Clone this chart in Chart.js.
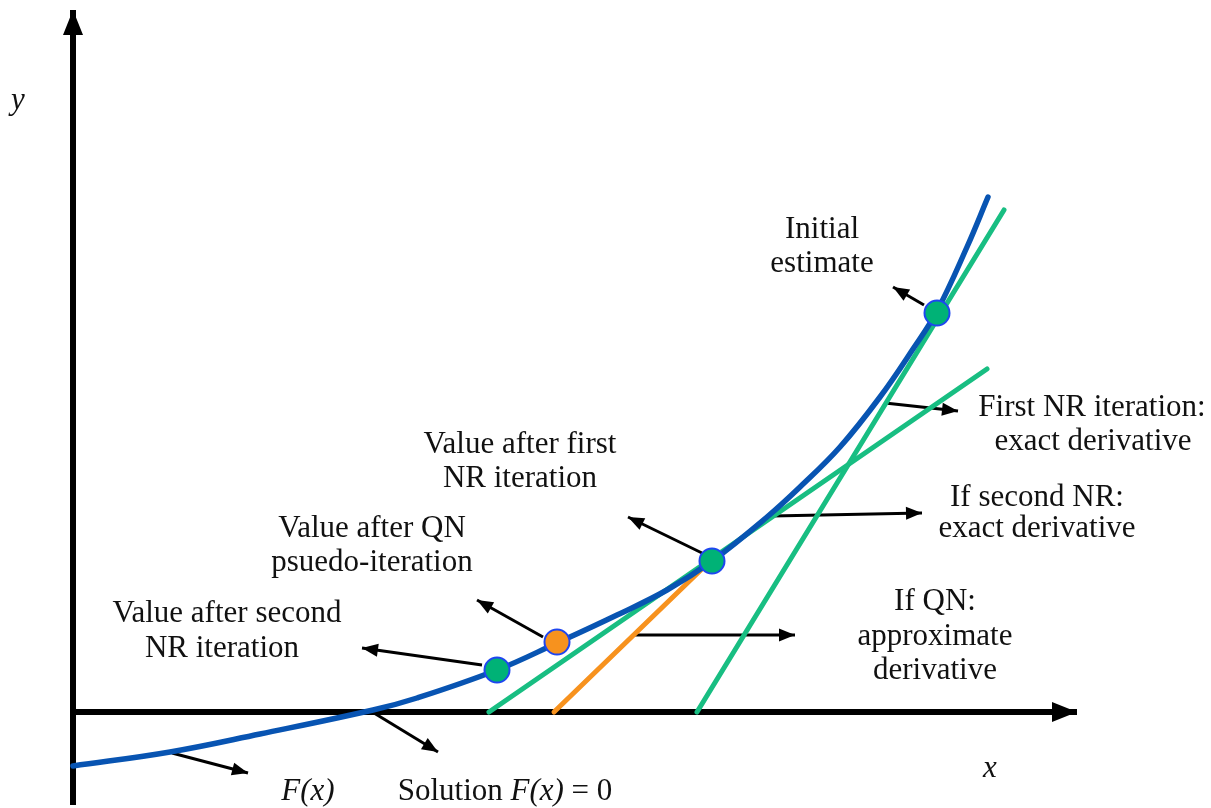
<!DOCTYPE html>
<html>
<head>
<meta charset="utf-8">
<script src="https://cdn.jsdelivr.net/npm/chart.js@4"></script>
<style>
    body { margin: 0; background: #fff; }
    #wrap { width: 1211px; height: 808px; }
</style>
</head>
<body>
<div id="wrap"><canvas id="chart"></canvas></div>
<script>
// Values, in diagram units (origin where the axes cross, y up)
const curveX = [0, 97, 187, 300, 344, 424, 484, 544, 594, 639, 694, 727, 767, 807, 840, 864, 894, 915];
const curveY = [-54, -40, -22, 2, 14, 42, 69, 97, 122, 151, 195, 225, 265, 315, 363, 401, 465, 515];

// tangents: [x0, y0, x1, y1]
const tangentInitial = [624, 0, 931, 502];
const tangentSecond = [416, 0, 914, 343];
const tangentQN = [481, 0, 632, 146];

// iteration points on the curve
const pointX = [864, 639, 484, 424];
const pointY = [399, 151, 70, 42];
const pointKind = ['nr', 'nr', 'qn', 'nr'];

// annotation arrows: [fromX, fromY, toX, toY]
const arrows = [
    [851, 407, 820, 425],
    [812, 309, 885, 301],
    [699, 196, 849, 199],
    [629, 159, 555, 195],
    [470, 75, 404, 112],
    [409, 47, 289, 64],
    [560, 77, 722, 77],
    [99, -41, 175, -61],
    [301, -1, 365, -40]
];

const yAxisLine = [0, -93, 0, 702];
const xAxisLine = [0, 0, 1004, 0];

// labels: text lines, centre x and baseline y
const labels = [
    { x: 749, y: 474, parts: [['Initial', false]] },
    { x: 749, y: 440, parts: [['estimate', false]] },
    { x: 1019, y: 296, parts: [['First NR iteration:', false]] },
    { x: 1020, y: 262, parts: [['exact derivative', false]] },
    { x: 964, y: 206, parts: [['If second NR:', false]] },
    { x: 964, y: 175, parts: [['exact derivative', false]] },
    { x: 447, y: 259, parts: [['Value after first', false]] },
    { x: 447, y: 225, parts: [['NR iteration', false]] },
    { x: 299, y: 175, parts: [['Value after QN', false]] },
    { x: 299, y: 141, parts: [['psuedo-iteration', false]] },
    { x: 154, y: 90, parts: [['Value after second', false]] },
    { x: 149, y: 55, parts: [['NR iteration', false]] },
    { x: 862, y: 102, parts: [['If QN:', false]] },
    { x: 862, y: 67, parts: [['approximate', false]] },
    { x: 862, y: 33, parts: [['derivative', false]] },
    { x: 235, y: -88, parts: [['F(x)', true]] },
    { x: 432, y: -88, parts: [['Solution ', false], ['F(x)', true], [' = 0', false]] },
    { x: -55, y: 603, parts: [['y', true]] },
    { x: 917, y: -65, parts: [['x', true]] }
];

const BLUE = 'rgb(8, 84, 178)';
const GREEN = 'rgb(24, 190, 130)';
const ORANGE = 'rgb(247, 146, 30)';
const SERIF = '"Liberation Serif", "DejaVu Serif", serif';
const FONT_PX = 31;

function seg(s) {
    return [{ x: s[0], y: s[1] }, { x: s[2], y: s[3] }];
}

function lineSet(s, colour, width, order, head) {
    return {
        data: seg(s),
        showLine: true,
        borderColor: colour,
        backgroundColor: colour,
        borderWidth: width,
        borderCapStyle: head ? 'butt' : 'round',
        pointRadius: 0,
        order: order,
        clip: false,
        arrowHead: head
    };
}

var datasets = [];

// iteration points on top
datasets.push({
    data: pointX.map(function(x, i) { return { x: x, y: pointY[i] }; }),
    showLine: false,
    pointRadius: 12.5,
    pointHoverRadius: 12.5,
    pointBackgroundColor: pointKind.map(function(k) { return k == 'qn' ? ORANGE : 'rgb(0, 178, 118)'; }),
    pointBorderColor: 'rgb(30, 70, 240)',
    pointBorderWidth: 2,
    order: 0,
    clip: false
});

// F(x)
datasets.push({
    data: curveX.map(function(x, i) { return { x: x, y: curveY[i] }; }),
    showLine: true,
    borderColor: BLUE,
    borderWidth: 5.5,
    borderCapStyle: 'round',
    tension: 0.4,
    pointRadius: 0,
    order: 1,
    clip: false
});

datasets.push(lineSet(tangentInitial, GREEN, 5, 2, null));
datasets.push(lineSet(tangentSecond, GREEN, 5, 2, null));
datasets.push(lineSet(tangentQN, ORANGE, 5, 2, null));

arrows.forEach(function(a) {
    datasets.push(lineSet(a, '#000', 3, 3, { len: 16, half: 6.5 }));
});

datasets.push(lineSet(yAxisLine, '#000', 6, 4, { len: 25, half: 10 }));
datasets.push(lineSet(xAxisLine, '#000', 6, 4, { len: 25, half: 10 }));

// Arrow heads at the end of flagged datasets
const arrowHeads = {
    id: 'arrowHeads',
    afterDatasetsDraw(chart) {
        const ctx = chart.ctx;
        const xs = chart.scales.x, ys = chart.scales.y;
        chart.data.datasets.forEach(function(ds) {
            if (!ds.arrowHead) return;
            const p0 = ds.data[ds.data.length - 2], p1 = ds.data[ds.data.length - 1];
            const x0 = xs.getPixelForValue(p0.x), y0 = ys.getPixelForValue(p0.y);
            const x1 = xs.getPixelForValue(p1.x), y1 = ys.getPixelForValue(p1.y);
            const ang = Math.atan2(y1 - y0, x1 - x0);
            const h = ds.arrowHead;
            ctx.save();
            ctx.translate(x1, y1);
            ctx.rotate(ang);
            ctx.beginPath();
            ctx.moveTo(0, 0);
            ctx.lineTo(-h.len, -h.half);
            ctx.lineTo(-h.len, h.half);
            ctx.closePath();
            ctx.fillStyle = ds.borderColor;
            ctx.fill();
            ctx.restore();
        });
    }
};

// Text labels
const textLabels = {
    id: 'textLabels',
    afterDraw(chart) {
        const ctx = chart.ctx;
        const xs = chart.scales.x, ys = chart.scales.y;
        ctx.save();
        ctx.fillStyle = '#111';
        ctx.textBaseline = 'alphabetic';
        ctx.textAlign = 'left';
        labels.forEach(function(l) {
            var total = 0;
            var widths = l.parts.map(function(p) {
                ctx.font = (p[1] ? 'italic ' : '') + FONT_PX + 'px ' + SERIF;
                var w = ctx.measureText(p[0]).width;
                total += w;
                return w;
            });
            var x = xs.getPixelForValue(l.x) - total / 2;
            var y = ys.getPixelForValue(l.y);
            l.parts.forEach(function(p, i) {
                ctx.font = (p[1] ? 'italic ' : '') + FONT_PX + 'px ' + SERIF;
                ctx.fillText(p[0], x, y);
                x += widths[i];
            });
        });
        ctx.restore();
    }
};

new Chart(document.getElementById('chart'), {
    type: 'scatter',
    data: { datasets: datasets },
    options: {
        responsive: true,
        maintainAspectRatio: false,
        animation: false,
        events: [],
        layout: { padding: 0, autoPadding: false },
        plugins: {
            legend: { display: false },
            tooltip: { enabled: false }
        },
        scales: {
            x: { type: 'linear', min: -73, max: 1138, display: false },
            y: { type: 'linear', min: -96, max: 712, display: false }
        }
    },
    plugins: [arrowHeads, textLabels]
});
</script>
</body>
</html>
